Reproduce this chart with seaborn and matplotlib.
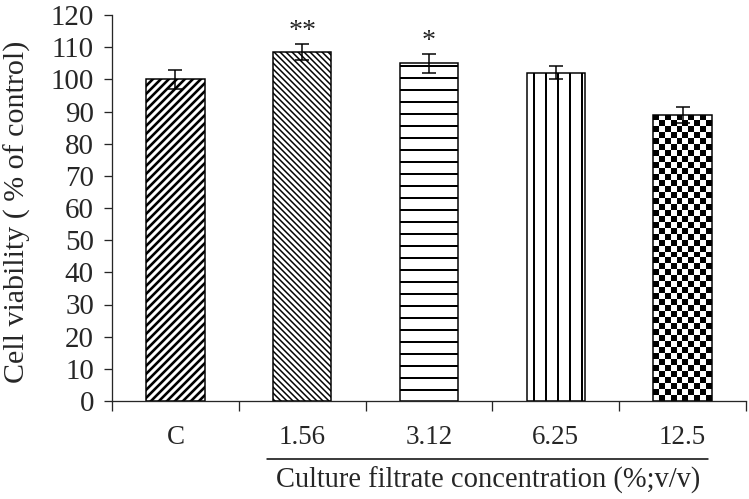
import numpy as np
import matplotlib
matplotlib.use("Agg")
import matplotlib.pyplot as plt
import seaborn as sns

# data
groups = ["C", "1.56", "3.12", "6.25", "12.5"]
viability = [100.0, 108.5, 105.0, 102.0, 89.0]
sd = [3.0, 2.5, 3.0, 2.0, 2.5]
stars = ["", "**", "*", "", ""]
hatches = ["///", "\\\\\\\\", "-", "|", None]
hatch_lw = [2.6, 1.5, 2.0, 2.0, 1.0]

sns.set_style("ticks")
plt.rcParams["font.family"] = ["Liberation Serif", "DejaVu Serif"]
plt.rcParams["hatch.color"] = "black"
plt.rcParams["hatch.linewidth"] = 1.8

DPI = 72
FS = 27
fig = plt.figure(figsize=(749 / DPI, 499 / DPI), dpi=DPI)
ax = fig.add_axes([112 / 749, 1 - 401 / 499, (746 - 112) / 749, (401 - 15) / 499])

sns.barplot(x=groups, y=viability, order=groups, color="white", edgecolor="black",
            linewidth=1.5, width=0.46, errorbar=None, ax=ax)

bars = ax.patches[:len(groups)]
for bar, h, lw in zip(bars, hatches, hatch_lw):
    if h:
        bar.set_hatch(h)
        if hasattr(bar, "set_hatch_linewidth"):
            bar.set_hatch_linewidth(lw)

# checkerboard fill for the last bar
last = bars[-1]
x0, w, top = last.get_x(), last.get_width(), last.get_height()
ncol, nrow = 10, 48
checker = (np.add.outer(np.arange(nrow), np.arange(ncol)) % 2).astype(float)
last.set_facecolor("none")
img = ax.imshow(checker, cmap="gray", interpolation="nearest", aspect="auto",
                extent=(x0, x0 + w, 0, top), zorder=0.8)
img.set_clip_path(last)

xpos = np.arange(len(groups))
ax.errorbar(xpos, viability, yerr=sd, fmt="none", ecolor="black",
            elinewidth=1.5, capsize=7, capthick=1.5, zorder=3)
for x, v, e, s in zip(xpos, viability, sd, stars):
    if s:
        ax.text(x, v + e, s, ha="center", va="bottom", fontsize=28)

ax.set_xlim(-0.5, len(groups) - 0.5)
ax.set_ylim(0, 120)
ax.set_yticks(range(0, 121, 10))
ax.set_xticks(xpos)
ax.set_xticks(np.arange(-0.5, len(groups), 1.0), minor=True)
ax.tick_params(axis="x", which="major", length=0, pad=24, labelsize=FS)
ax.tick_params(axis="x", which="minor", length=10, width=1.3, direction="out")
ax.tick_params(axis="y", length=8, width=1.3, direction="out", labelsize=29, pad=10)
for side in ["top", "right"]:
    ax.spines[side].set_visible(False)
for side in ["left", "bottom"]:
    ax.spines[side].set_linewidth(1.3)

ax.set_ylabel("Cell viability ( % of control)", fontsize=30)
ax.yaxis.set_label_coords(-0.128, 0.49)
ax.set_xlabel("")

# underline + label for the concentration groups
trans = ax.get_xaxis_transform()
ax.plot([0.72, 4.2], [-0.15, -0.15], color="black", lw=1.5,
        transform=trans, clip_on=False)
ax.text(2.47, -0.205, "Culture filtrate concentration (%;v/v)", ha="center",
        va="center", fontsize=28.5, transform=trans)

fig.savefig("out.png", dpi=DPI)
